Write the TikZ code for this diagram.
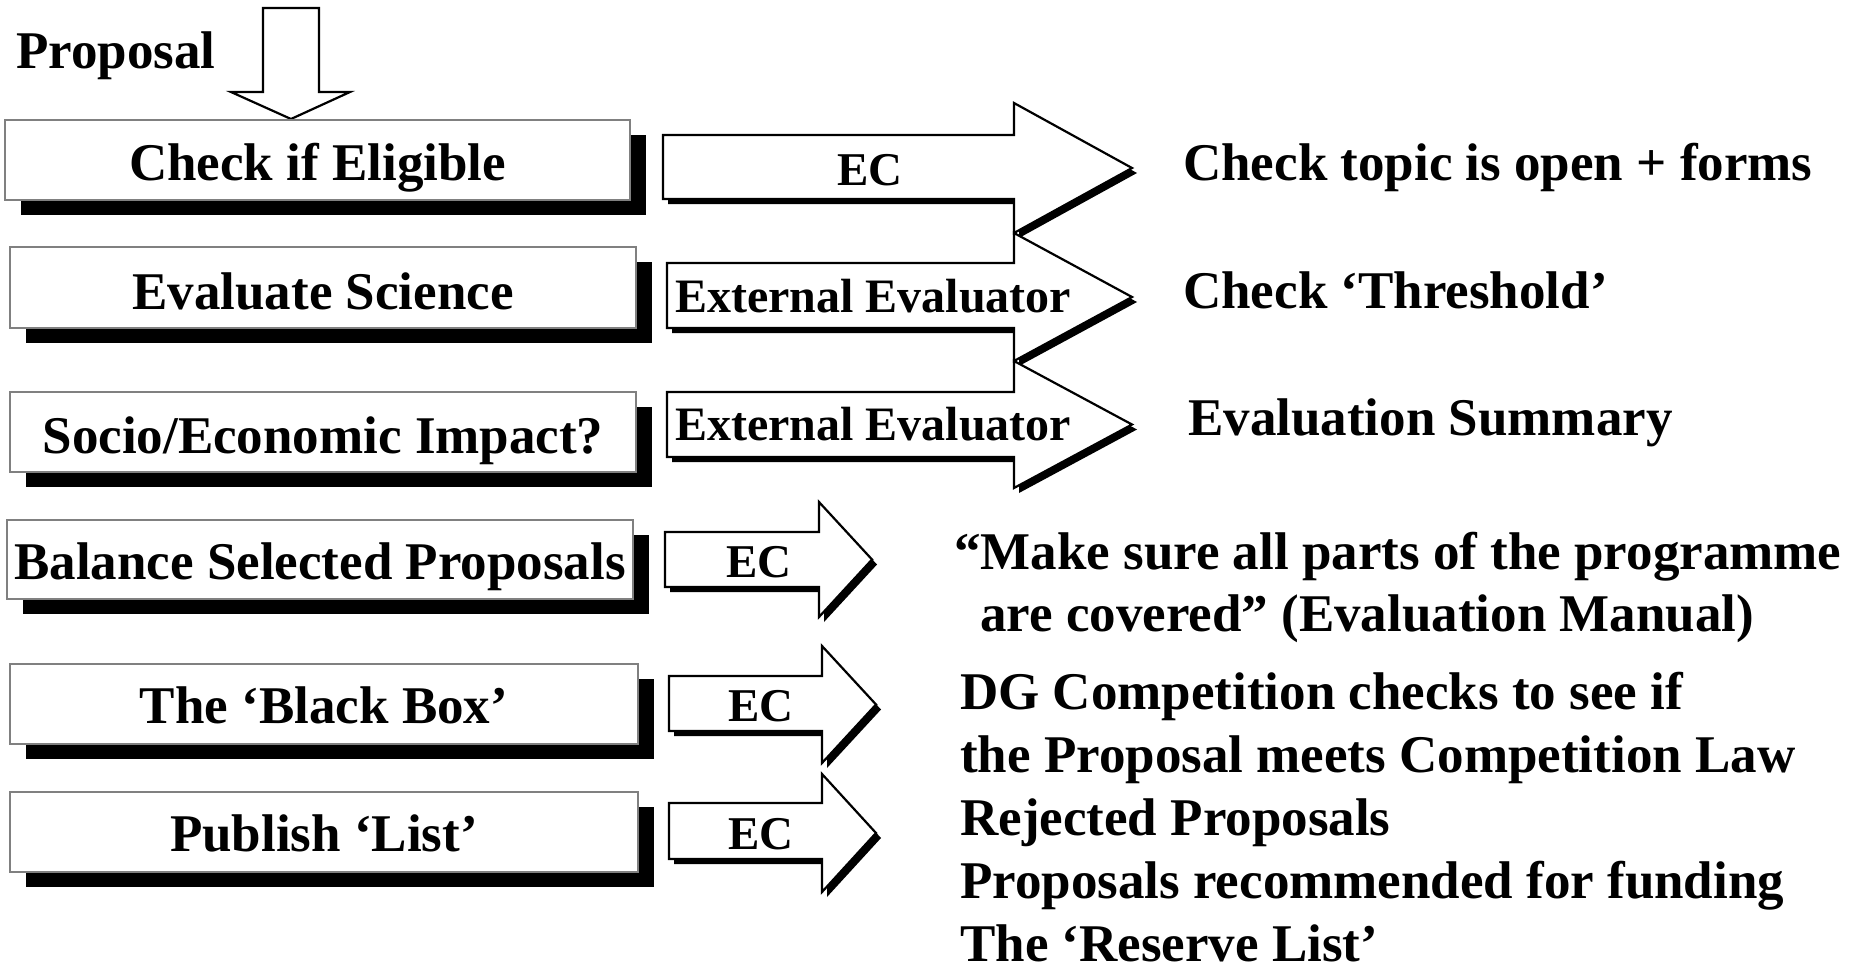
\documentclass[tikz,border=0pt]{standalone}
\usepackage{fontspec}
\setmainfont{Liberation Serif}
\newcommand{\procbox}[7]{% name, x1, y1, x2, y2, text, baseline
  \fill[black] ({#2+16},{#3+15}) rectangle ({#4+16},{#5+15});
  \draw[boxface] (#2,#3) rectangle (#4,#5);
  \node[boxlabel] (#1) at ({(#2+#4)/2},#7) {#6};
}
\newcommand{\blockarrow}[7]{% xl, shaft top, shaft bottom, head x, head top, head bottom, tip x
  \fill[black,shift={(5,5)}] (#1,#2) -- (#4,#2) -- (#4,#5) -- (#7,{(#5+#6)/2}) -- (#4,#6) -- (#4,#3) -- (#1,#3) -- cycle;
  \draw[arrowface] (#1,#2) -- (#4,#2) -- (#4,#5) -- (#7,{(#5+#6)/2}) -- (#4,#6) -- (#4,#3) -- (#1,#3) -- cycle;
}
\begin{document}
\begin{tikzpicture}[x=1pt,y=-1pt,
  boxface/.style={fill=white,draw=black!50,line width=1.5pt},
  arrowface/.style={fill=white,draw=black,line width=2.2pt,line join=miter},
  boxlabel/.style={inner sep=0pt,anchor=base,font=\bfseries\fontsize{53}{64}\selectfont},
  arrowlabel/.style={inner sep=0pt,anchor=base,font=\bfseries\fontsize{47}{56}\selectfont},
  note/.style={inner sep=0pt,anchor=base west,font=\bfseries\fontsize{53}{64}\selectfont}]
\useasboundingbox[fill=white] (0,0) rectangle (1870,969);

% input
\node[note] (proposal) at (16,68) {Proposal};
\draw[arrowface] (263,8) -- (319,8) -- (319,92) -- (350,92) -- (291,119) -- (231,92) -- (263,92) -- cycle;

% process boxes
\procbox{b1}{5}{120}{630}{200}{Check if Eligible}{180}
\procbox{b2}{10}{247}{636}{328}{Evaluate Science}{309}
\procbox{b3}{10}{392}{636}{472}{Socio/Economic Impact?}{453}
\procbox{b4}{7}{520}{633}{599}{Balance Selected Proposals}{579}
\procbox{b5}{10}{664}{638}{744}{The ‘Black Box’}{723}
\procbox{b6}{10}{792}{638}{872}{Publish ‘List’}{851}

% block arrows
\blockarrow{663}{135}{199}{1014}{103}{233}{1132}
\blockarrow{667}{263}{328}{1014}{233}{361}{1132}
\blockarrow{667}{392}{457}{1014}{361}{488}{1132}
\blockarrow{665}{532}{587}{819}{502}{617}{872}
\blockarrow{669}{676}{731}{822}{646}{763}{876}
\blockarrow{669}{803}{859}{822}{774}{892}{876}

\node[arrowlabel] (a1) at (870,185) {EC};
\node[arrowlabel,anchor=base west,font=\bfseries\fontsize{48}{56}\selectfont] (a2) at (675,312) {External Evaluator};
\node[arrowlabel,anchor=base west,font=\bfseries\fontsize{48}{56}\selectfont] (a3) at (675,440) {External Evaluator};
\node[arrowlabel] (a4) at (759,577) {EC};
\node[arrowlabel] (a5) at (761,721) {EC};
\node[arrowlabel] (a6) at (761,849) {EC};

% outcomes
\node[note] (r1) at (1183,180) {Check topic is open + forms};
\node[note] (r2) at (1183,308) {Check ‘Threshold’};
\node[note] (r3) at (1188,435) {Evaluation Summary};
\node[note] (r4a) at (954,569) {“Make sure all parts of the programme};
\node[note] (r4b) at (980,631) {are covered” (Evaluation Manual)};
\node[note] (r5a) at (960,709) {DG Competition checks to see if};
\node[note] (r5b) at (960,772) {the Proposal meets Competition Law};
\node[note] (r6a) at (960,835) {Rejected Proposals};
\node[note] (r6b) at (960,898) {Proposals recommended for funding};
\node[note] (r6c) at (960,961) {The ‘Reserve List’};
\end{tikzpicture}
\end{document}
